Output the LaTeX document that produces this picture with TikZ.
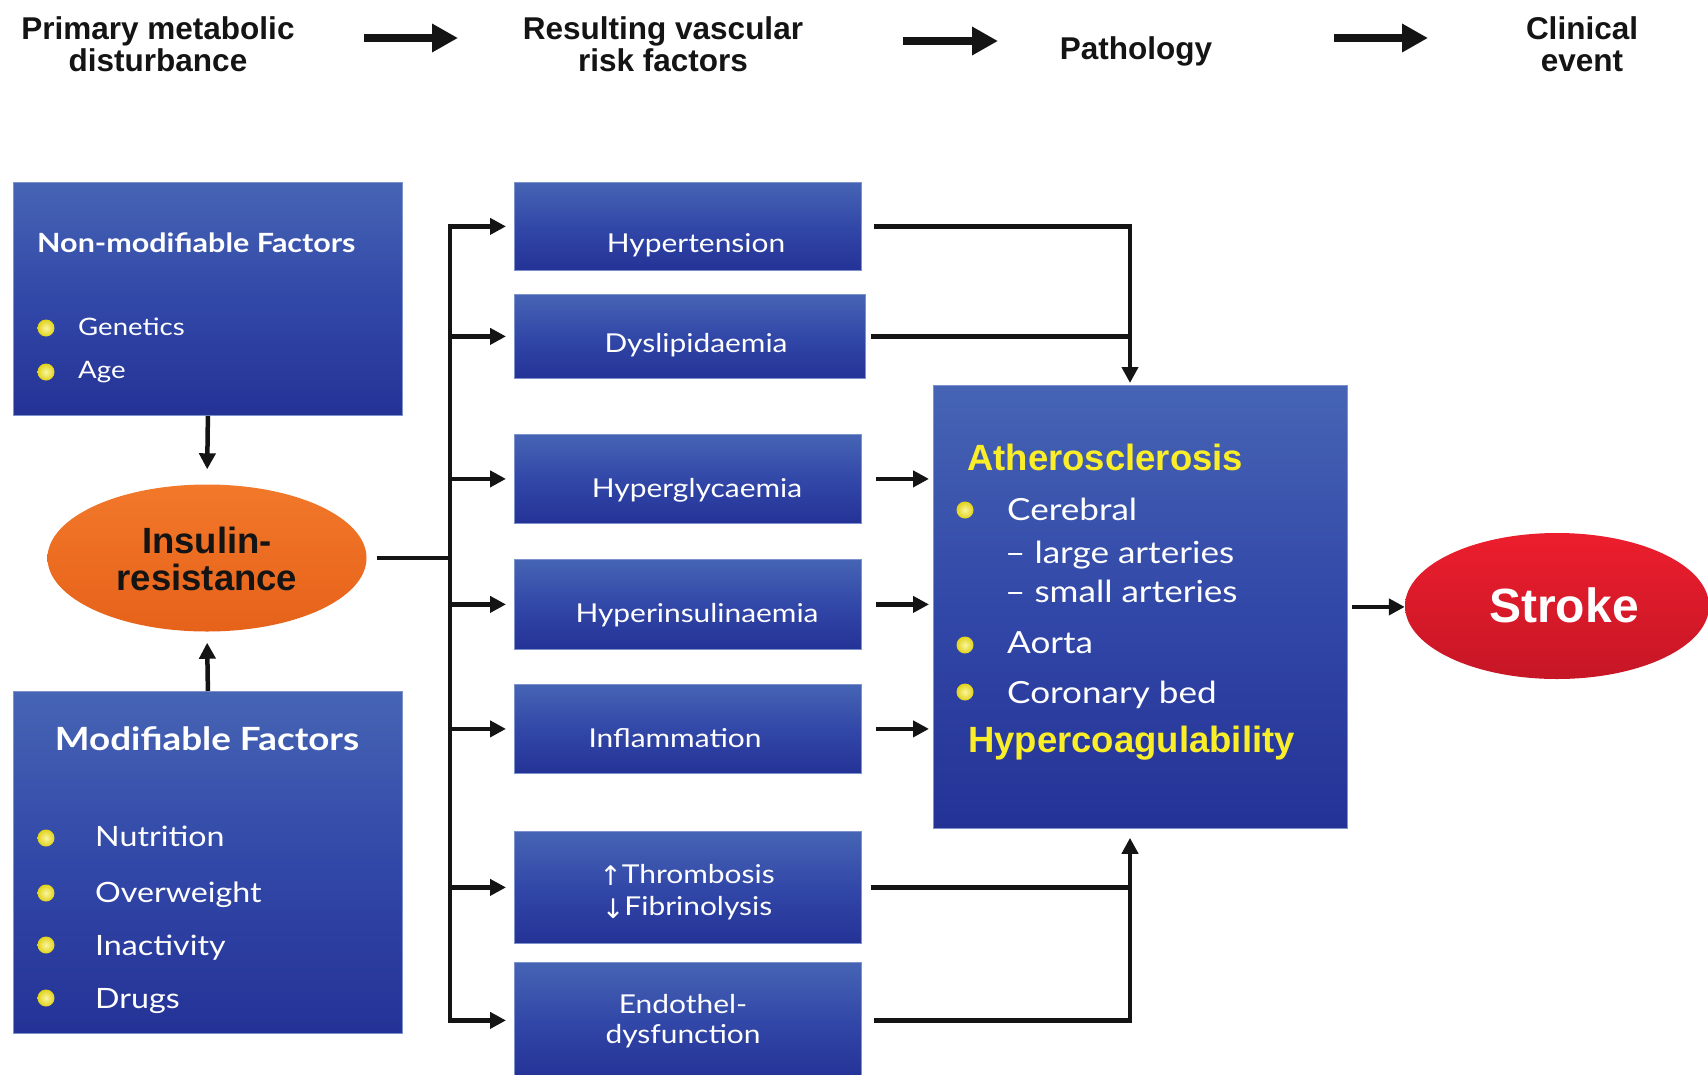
\documentclass[tikz,border=0pt]{standalone}
\usepackage{fontspec}
\setmainfont{Lato}
\newfontfamily\gill{Lato}[FakeStretch=1.15]
\newfontfamily\arialf{Liberation Sans}
\newfontfamily\dejavu{DejaVu Sans}
\usetikzlibrary{arrows.meta,shapes.geometric,calc}
\definecolor{boxtop}{RGB}{70,100,180}
\definecolor{boxmid}{RGB}{50,72,168}
\definecolor{boxbot}{RGB}{36,50,150}
\definecolor{boxedge}{RGB}{125,145,205}
\definecolor{ortop}{RGB}{242,120,42}
\definecolor{orbot}{RGB}{230,98,26}
\definecolor{rdtop}{RGB}{236,30,45}
\definecolor{rdbot}{RGB}{198,22,38}
\definecolor{ylw}{RGB}{250,238,40}
\definecolor{bulin}{RGB}{250,245,160}
\definecolor{bulout}{RGB}{225,210,25}
\definecolor{ink}{RGB}{20,20,20}
\begin{document}
\begin{tikzpicture}[x=1pt,y=-1pt,
  box/.style={rectangle, inner sep=0pt, anchor=north west, top color=boxtop, bottom color=boxbot, middle color=boxmid, draw=boxedge, line width=0.8pt},
  hdr/.style={anchor=base, inner sep=0pt, text=ink, font=\arialf\bfseries\fontsize{31.5}{32}\selectfont},
  mtext/.style={anchor=base, inner sep=0pt, text=white, font=\gill\fontsize{26}{28}\selectfont},
  ltext/.style={anchor=base west, inner sep=0pt, text=white, font=\gill\fontsize{24}{26}\selectfont},
  mlist/.style={anchor=base west, inner sep=0pt, text=white, font=\gill\fontsize{28}{30}\selectfont},
  blist/.style={anchor=base west, inner sep=0pt, text=white, font=\gill\fontsize{30.5}{32}\selectfont},
  yhead/.style={anchor=base west, inner sep=0pt, text=ylw, font=\arialf\bfseries\fontsize{36.5}{38}\selectfont},
  bul/.style={circle, inner sep=0pt, minimum size=17pt, inner color=bulin, outer color=bulout},
  arr/.style={line width=4.5pt, draw=ink, -{Triangle[length=16pt,width=16pt]}},
  ln/.style={line width=4.5pt, draw=ink},
  harr/.style={line width=7.5pt, draw=ink, -{Triangle[length=26pt,width=27pt]}}
]
\useasboundingbox[fill=white] (0,0) rectangle (1708,1074);

% headers
\node[hdr] (h1a) at (158,39) {Primary metabolic};
\node[hdr] (h1b) at (158,71) {disturbance};
\node[hdr] (h2a) at (663,39) {Resulting vascular};
\node[hdr] (h2b) at (663,71) {risk factors};
\node[hdr] (h3) at (1136,59) {Pathology};
\node[hdr] (h4a) at (1582,39) {Clinical};
\node[hdr] (h4b) at (1582,71) {event};
\coordinate (a1s) at (364,38); \coordinate (a1e) at (458,38);
\coordinate (a2s) at (903,41); \coordinate (a2e) at (998,41);
\coordinate (a3s) at (1334,38); \coordinate (a3e) at (1428,38);
\draw[harr] (a1s) -- (a1e);
\draw[harr] (a2s) -- (a2e);
\draw[harr] (a3s) -- (a3e);

% left boxes
\node[box, minimum width=389pt, minimum height=233pt] (nm) at (13,182) {};
\node[ltext, font=\gill\bfseries\fontsize{26.5}{28}\selectfont] (nmt) at (37,252) {Non-modifiable Factors};
\node[bul] (nb1) at (46,328) {};
\node[ltext] (nm1) at (78,335) {Genetics};
\node[bul] (nb2) at (46,372) {};
\node[ltext] (nm2) at (78,378) {Age};

\node[box, minimum width=389pt, minimum height=342pt] (mod) at (13,691) {};
\node[anchor=base, inner sep=0pt, text=white, font=\gill\bfseries\fontsize{32}{34}\selectfont] (modt) at (207,750) {Modifiable Factors};
\node[bul] (mb1) at (46,838) {};
\node[mlist] (m1) at (95,846) {Nutrition};
\node[bul] (mb2) at (46,893) {};
\node[mlist] (m2) at (95,902) {Overweight};
\node[bul] (mb3) at (46,945) {};
\node[mlist] (m3) at (95,955) {Inactivity};
\node[bul] (mb4) at (46,998) {};
\node[mlist] (m4) at (95,1008) {Drugs};

% insulin resistance
\node[ellipse, minimum width=319pt, minimum height=147pt, inner sep=0pt, top color=ortop, bottom color=orbot] (ins) at (207,558) {};
\node[anchor=base, inner sep=0pt, text=ink, font=\arialf\bfseries\fontsize{36.5}{38}\selectfont] (ins1) at (207,553) {Insulin-};
\node[anchor=base, inner sep=0pt, text=ink, font=\arialf\bfseries\fontsize{36.5}{38}\selectfont] (ins2) at (207,590) {resistance};

% middle boxes
\node[box, minimum width=347pt, minimum height=88pt] (hyp) at (514,182) {};
\node[mtext] (hypt) at (696,252) {Hypertension};
\node[box, minimum width=351pt, minimum height=84pt] (dys) at (514,294) {};
\node[mtext] (dyst) at (696,352) {Dyslipidaemia};
\node[box, minimum width=347pt, minimum height=89pt] (hgl) at (514,434) {};
\node[mtext] (hglt) at (697,497) {Hyperglycaemia};
\node[box, minimum width=347pt, minimum height=90pt] (hin) at (514,559) {};
\node[mtext] (hint) at (697,622) {Hyperinsulinaemia};
\node[box, minimum width=347pt, minimum height=89pt] (inf) at (514,684) {};
\node[mtext] (inft) at (675,747) {Inflammation};
\node[box, minimum width=347pt, minimum height=112pt] (thr) at (514,831) {};
\node[mtext] (thr1) at (687,883) {{\dejavu\fontsize{27}{28}\selectfont\raisebox{-2pt}{↑}}Thrombosis};
\node[mtext] (thr2) at (687,915) {{\dejavu\fontsize{27}{28}\selectfont\raisebox{-3pt}{↓}}Fibrinolysis};
\node[box, minimum width=347pt, minimum height=116pt] (endo) at (514,962) {};
\node[mtext] (endo1) at (683,1013) {Endothel-};
\node[mtext] (endo2) at (683,1043) {dysfunction};

% big pathology box
\node[box, minimum width=414pt, minimum height=443pt] (big) at (933,385) {};
\node[yhead] (ath) at (967,470) {Atherosclerosis};
\node[bul] (pb1) at (965,510) {};
\node[blist] (p1) at (1007,520) {Cerebral};
\node[blist] (p2) at (1005,563) {– large arteries};
\node[blist] (p3) at (1005,602) {– small arteries};
\node[bul] (pb2) at (965,645) {};
\node[blist] (p4) at (1007,653) {Aorta};
\node[bul] (pb3) at (965,692) {};
\node[blist] (p5) at (1007,703) {Coronary bed};
\node[yhead] (hco) at (968,752) {Hypercoagulability};

% stroke
\node[ellipse, minimum width=304pt, minimum height=146pt, inner sep=0pt, top color=rdtop, bottom color=rdbot] (stroke) at (1557,606) {};
\node[anchor=base, inner sep=0pt, text=white, font=\arialf\bfseries\fontsize{48}{50}\selectfont] (strt) at (1564,622) {Stroke};

% connectors left
\draw[arr, shorten >=15pt] (nm.south) -- (ins.north);
\draw[arr, shorten >=11pt] (mod.north) -- (ins.south);
\coordinate (trx) at (450,0);
\draw[ln] ([xshift=10pt]ins.east) -- (trx |- ins.east);
\draw[arr, shorten >=8pt] (trx |- endo.west) -- (trx |- hyp.west) -- (hyp.west);
\draw[arr, shorten >=8pt] (trx |- hyp.west) -- (trx |- endo.west) -- (endo.west);
\draw[arr, shorten >=8pt] (trx |- dys.west) -- (dys.west);
\draw[arr, shorten >=8pt] (trx |- hgl.west) -- (hgl.west);
\draw[arr, shorten >=8pt] (trx |- hin.west) -- (hin.west);
\draw[arr, shorten >=8pt] (trx |- inf.west) -- (inf.west);
\draw[arr, shorten >=8pt] (trx |- thr.west) -- (thr.west);

% connectors right
\coordinate (colx) at (1130,0);
\draw[arr, shorten >=2pt] ([xshift=12pt]hyp.east) -- (colx |- hyp.east) -- (colx |- big.north);
\draw[ln] ([xshift=5pt]dys.east) -- (colx |- dys.east);
\draw[arr, shorten >=4pt] ([xshift=14pt]hgl.east) -- (big.west |- hgl.east);
\draw[arr, shorten >=4pt] ([xshift=14pt]hin.east) -- (big.west |- hin.east);
\draw[arr, shorten >=4pt] ([xshift=14pt]inf.east) -- (big.west |- inf.east);
\draw[ln] ([xshift=9pt]thr.east) -- (colx |- thr.east);
\draw[arr, shorten >=9pt] ([xshift=12pt]endo.east) -- (colx |- endo.east) -- (colx |- big.south);
\draw[arr] ([xshift=4pt]big.east) -- (stroke.west |- big.east);
\end{tikzpicture}
\end{document}
